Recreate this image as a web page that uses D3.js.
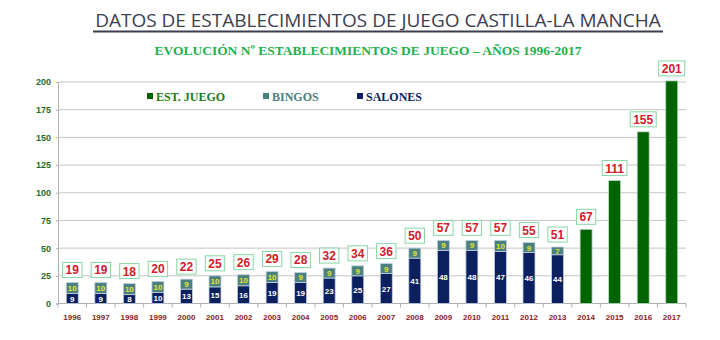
<!DOCTYPE html>
<html>
<head>
<meta charset="utf-8">
<script src="https://cdnjs.cloudflare.com/ajax/libs/d3/7.8.5/d3.min.js"></script>
<style>
  body { margin: 0; background: #fff; }
  svg { display: block; }
</style>
</head>
<body>
<script>
// data per year: salones + bingos up to 2013, single total afterwards
var years = ["1996","1997","1998","1999","2000","2001","2002","2003","2004","2005","2006",
             "2007","2008","2009","2010","2011","2012","2013","2014","2015","2016","2017"];
var salones = [9,9,8,10,13,15,16,19,19,23,25,27,41,48,48,47,46,44,null,null,null,null];
var bingos  = [10,10,10,10,9,10,10,10,9,9,9,9,9,9,9,10,9,7,null,null,null,null];
var estJuego = [null,null,null,null,null,null,null,null,null,null,null,null,null,null,null,null,null,null,67,111,155,201];
var yTicks = [0,25,50,75,100,125,150,175,200];
var legendItems = ["EST. JUEGO", "BINGOS", "SALONES"];

var width = 720, height = 340;
var colors = { est: "#006400", bingo: "#4b8080", salon: "#0c1f5e" };

var svg = d3.select("body").append("svg")
    .attr("width", width)
    .attr("height", height);

// titles: font size is fitted so the heading spans the underline
var title = svg.append("text")
    .attr("x", 378).attr("y", 27)
    .attr("text-anchor", "middle")
    .style("font-family", "'Open Sans', 'DejaVu Sans', sans-serif")
    .style("font-size", "20px")
    .style("font-weight", "500")
    .style("fill", "#3d3d50")
    .text("DATOS DE ESTABLECIMIENTOS DE JUEGO CASTILLA-LA MANCHA");
var tLen = title.node().getComputedTextLength();
title.style("font-size", (20 * 566 / tLen) + "px");
svg.append("line")
    .attr("x1", 93).attr("x2", 663)
    .attr("y1", 31.5).attr("y2", 31.5)
    .attr("stroke", "#3d3d50").attr("stroke-width", 2);

var sub = svg.append("text")
    .attr("x", 368).attr("y", 55)
    .attr("text-anchor", "middle")
    .style("font-family", "'Liberation Serif', serif")
    .style("font-size", "14px")
    .style("font-weight", "bold")
    .style("fill", "#22b14c")
    .text("EVOLUCIÓN Nº ESTABLECIMIENTOS DE JUEGO – AÑOS 1996-2017");
var sLen = sub.node().getComputedTextLength();
sub.style("font-size", (14 * 427 / sLen) + "px");

// scales
var x = d3.scaleBand()
    .domain(years)
    .range([58, 686])
    .paddingInner(0.58)
    .paddingOuter(0.29);

var y = d3.scaleLinear()
    .domain([0, 200])
    .range([303.5, 82]);

// gridlines + y axis
var yAxis = svg.append("g")
    .attr("transform", "translate(58,0)")
    .call(d3.axisLeft(y).tickValues(yTicks).tickSize(2).tickPadding(5));
yAxis.select(".domain").attr("stroke", "#b0b0b0");
yAxis.selectAll(".tick line").attr("stroke", "#b0b0b0");
yAxis.selectAll(".tick text")
    .style("font-family", "'Liberation Sans', sans-serif")
    .style("font-size", "9px")
    .style("font-weight", "bold")
    .style("fill", "#1f6e1f");

svg.append("g").selectAll("line")
    .data(yTicks.filter(function(d) { return d > 0; }))
    .enter().append("line")
    .attr("x1", 58).attr("x2", 686)
    .attr("y1", function(d) { return y(d); })
    .attr("y2", function(d) { return y(d); })
    .attr("stroke", "#c4c4c4");

// x axis with separators between categories
var xAxisG = svg.append("g").attr("transform", "translate(0," + y(0) + ")");
xAxisG.append("line")
    .attr("x1", 58).attr("x2", 686)
    .attr("stroke", "#b0b0b0");
xAxisG.selectAll(".sep")
    .data(years.concat(["end"]))
    .enter().append("line")
    .attr("class", "sep")
    .attr("x1", function(d, i) { return 58 + i * x.step(); })
    .attr("x2", function(d, i) { return 58 + i * x.step(); })
    .attr("y1", 0).attr("y2", 4)
    .attr("stroke", "#b0b0b0");
xAxisG.selectAll(".yr")
    .data(years)
    .enter().append("text")
    .attr("x", function(d) { return x(d) + x.bandwidth() / 2; })
    .attr("y", 16)
    .attr("text-anchor", "middle")
    .style("font-family", "'Liberation Sans', sans-serif")
    .style("font-size", "8px")
    .style("font-weight", "bold")
    .style("fill", "#8b1c1c")
    .text(function(d) { return d; });

// legend sits on a white patch over the grid
var legend = svg.append("g");
legend.append("rect")
    .attr("x", 125).attr("y", 85).attr("width", 315).attr("height", 21)
    .attr("fill", "#fff");
var legendX = [147, 263, 357];
var legendC = [colors.est, colors.bingo, colors.salon];
legendItems.forEach(function(name, i) {
    legend.append("rect")
        .attr("x", legendX[i]).attr("y", 93)
        .attr("width", 6).attr("height", 6)
        .attr("fill", legendC[i]);
    legend.append("text")
        .attr("x", legendX[i] + 9).attr("y", 101)
        .style("font-family", "'Liberation Serif', serif")
        .style("font-size", "12px")
        .style("font-weight", "bold")
        .style("fill", i === 0 ? "#1a7a1a" : legendC[i])
        .text(name);
});

// bars
var rows = years.map(function(yr, i) {
    var total = estJuego[i] !== null ? estJuego[i] : salones[i] + bingos[i];
    return { year: yr, salon: salones[i], bingo: bingos[i], est: estJuego[i], total: total };
});

var bars = svg.append("g");
rows.forEach(function(d) {
    var bx = x(d.year), bw = x.bandwidth(), cx = bx + bw / 2;
    if (d.est !== null) {
        bars.append("rect")
            .attr("x", bx).attr("y", y(d.est))
            .attr("width", bw).attr("height", y(0) - y(d.est))
            .attr("fill", colors.est)
            .attr("stroke", "#b9dcc4").attr("stroke-width", 0.8);
    } else {
        bars.append("rect")
            .attr("x", bx).attr("y", y(d.salon))
            .attr("width", bw).attr("height", y(0) - y(d.salon))
            .attr("fill", colors.salon)
            .attr("stroke", "#c4cfe0").attr("stroke-width", 0.8);
        bars.append("rect")
            .attr("x", bx).attr("y", y(d.salon + d.bingo))
            .attr("width", bw).attr("height", y(d.salon) - y(d.salon + d.bingo))
            .attr("fill", colors.bingo)
            .attr("stroke", "#c4cfe0").attr("stroke-width", 0.8);
        bars.append("text")
            .attr("x", cx).attr("y", (y(0) + y(d.salon)) / 2 + 3)
            .attr("text-anchor", "middle")
            .style("font-family", "'Liberation Sans', sans-serif")
            .style("font-size", "8px").style("font-weight", "bold")
            .style("fill", "#fff")
            .text(d.salon);
        bars.append("text")
            .attr("x", cx).attr("y", (y(d.salon) + y(d.salon + d.bingo)) / 2 + 3)
            .attr("text-anchor", "middle")
            .style("font-family", "'Liberation Sans', sans-serif")
            .style("font-size", "8px").style("font-weight", "bold")
            .style("fill", "#e6e62a")
            .text(d.bingo);
    }

    // boxed total above each bar
    var label = bars.append("g");
    var t = label.append("text")
        .attr("x", cx).attr("y", y(d.total) - 8)
        .attr("text-anchor", "middle")
        .style("font-family", "'Liberation Sans', sans-serif")
        .style("font-size", "12px").style("font-weight", "bold")
        .style("fill", "#d0202a")
        .text(d.total);
    var tw = t.node().getComputedTextLength();
    label.insert("rect", "text")
        .attr("x", cx - tw / 2 - 3).attr("y", y(d.total) - 20)
        .attr("width", tw + 6).attr("height", 15)
        .attr("fill", "#fff")
        .attr("stroke", "#86d6a4").attr("stroke-width", 1);
});
</script>
</body>
</html>
